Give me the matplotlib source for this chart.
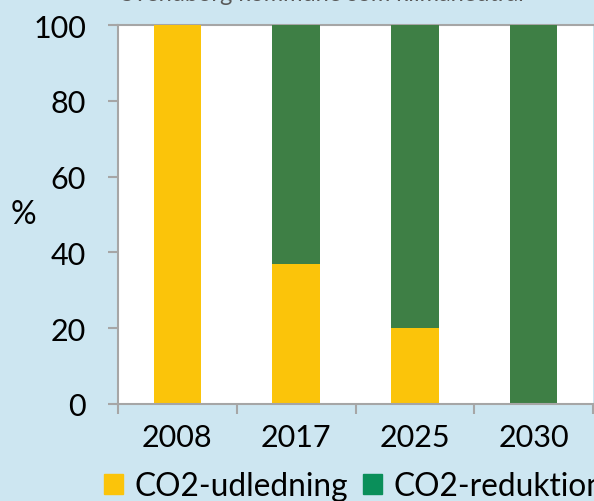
import matplotlib
matplotlib.use("Agg")
from matplotlib import pyplot as plt
from matplotlib.patches import Patch
from matplotlib.ticker import FixedLocator
import numpy as np

years = ["2008", "2017", "2025", "2030"]
udledning = [100, 37, 20, 0]
reduktion = [0, 63, 80, 100]
series_names = ["CO2-udledning", "CO2-reduktion"]
y_ticks = [0, 20, 40, 60, 80, 100]
title = "Svendborg kommune som klimaneutral"

bg = "#cde6f1"
yellow = "#fbc40a"
green_bar = "#3e7f45"
green_legend = "#0a8f5a"
axis_gray = "#a6a6a6"

plt.rcParams["font.family"] = ["Lato", "DejaVu Sans"]

fig = plt.figure(figsize=(5.94, 5.02), dpi=100)
fig.patch.set_facecolor(bg)
ax = fig.add_axes([118 / 594, 1 - 405 / 502, 475 / 594, 379 / 502])
ax.set_facecolor("white")

x = np.arange(len(years))
ax.bar(x, udledning, width=0.4, color=yellow)
ax.bar(x, reduktion, width=0.4, bottom=udledning, color=green_bar)

ax.set_xlim(-0.5, len(years) - 0.5)
ax.set_ylim(0, 100)

for s in ["top", "right"]:
    ax.spines[s].set_visible(False)
for s in ["left", "bottom"]:
    ax.spines[s].set_color(axis_gray)
    ax.spines[s].set_linewidth(1.5)
ax.axhline(100, color=axis_gray, lw=1.5, clip_on=False, zorder=0)

ax.set_yticks(y_ticks)
ax.tick_params(axis="y", length=7, width=1.5, color=axis_gray, pad=16,
               labelsize=22)
ax.set_xticks(x)
ax.set_xticklabels(years)
ax.tick_params(axis="x", which="major", length=0, pad=14, labelsize=22)
ax.xaxis.set_minor_locator(FixedLocator(np.arange(-0.5, len(years), 1.0)))
ax.tick_params(axis="x", which="minor", length=7, width=1.5, color=axis_gray)

ax.set_ylabel("%", rotation=0, fontsize=23, labelpad=0, va="center")
ax.yaxis.set_label_coords(-0.2, 0.5)

# title is cut off at the top edge, as in the original picture
fig.text(121 / 594, 1 - 1.2 / 502, title, fontsize=17, color="#595959",
         ha="left", va="baseline")

handles = [Patch(color=yellow), Patch(color=green_legend)]
fig.legend(handles, series_names, loc="lower left",
           bbox_to_anchor=(91 / 594, -0.026), ncol=2, frameon=False,
           fontsize=22.8, handlelength=0.62, handleheight=0.62,
           handletextpad=0.36, columnspacing=0.45, borderaxespad=0)

fig.savefig("out.png", dpi=100, facecolor=bg)
